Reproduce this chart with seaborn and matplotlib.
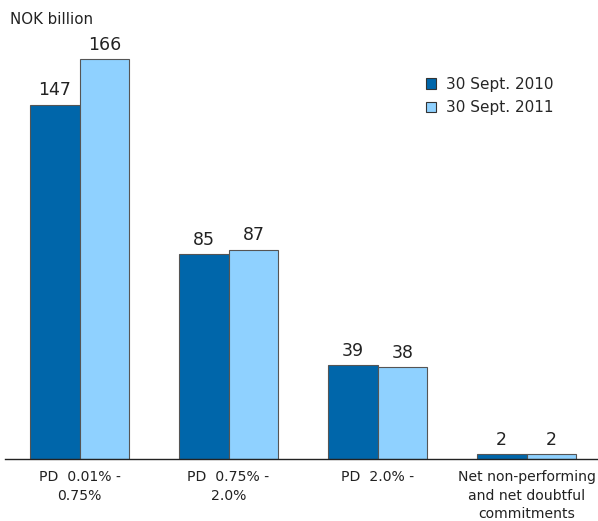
import pandas as pd
import matplotlib
matplotlib.use("Agg")
import matplotlib.pyplot as plt
import seaborn as sns

categories = ["PD  0.01% -\n0.75%", "PD  0.75% -\n2.0%", "PD  2.0% -",
              "Net non-performing\nand net doubtful\ncommitments"]
series_names = ["30 Sept. 2010", "30 Sept. 2011"]
values_2010 = [147, 85, 39, 2]
values_2011 = [166, 87, 38, 2]
colors = ["#0066AA", "#8FD1FF"]

df = pd.DataFrame({
    "category": categories * 2,
    "date": [series_names[0]] * 4 + [series_names[1]] * 4,
    "value": values_2010 + values_2011,
})

sns.set_style("white")
plt.rcParams['font.family'] = ['DejaVu Sans']

fig = plt.figure(figsize=(5.98, 5.21), dpi=100)
ax = fig.add_axes([5 / 598, 62 / 521, 596 / 598, 419 / 521])

sns.barplot(data=df, x="category", y="value", hue="date", palette=colors,
            width=0.67, edgecolor="#555555", linewidth=0.8, ax=ax,
            saturation=1)

for cont in ax.containers:
    ax.bar_label(cont, padding=4, fontsize=12.5, color="#222222")

ax.set_xlim(-0.5, 3.5)
ax.set_ylim(0, 174)
ax.set_xlabel("")
ax.set_ylabel("")
ax.set_yticks([])
for s in ["top", "right", "left"]:
    ax.spines[s].set_visible(False)
ax.spines["bottom"].set_color("#222222")
ax.spines["bottom"].set_linewidth(1)
ax.tick_params(axis="x", length=0, pad=8, labelsize=10.1, colors="#222222")
for lbl in ax.get_xticklabels():
    lbl.set_linespacing(1.4)

leg = ax.legend(loc="upper left", bbox_to_anchor=(0.684, 0.945), frameon=False,
                fontsize=11, handlelength=0.65, handleheight=0.65,
                handletextpad=0.6, labelspacing=0.55)
for h in leg.legend_handles:
    h.set_edgecolor("#333333")

fig.text(10 / 598, 1 - 19 / 521, "NOK billion", fontsize=10.8, color="#222222",
         va="center", ha="left")

fig.savefig("out.png", dpi=100)
